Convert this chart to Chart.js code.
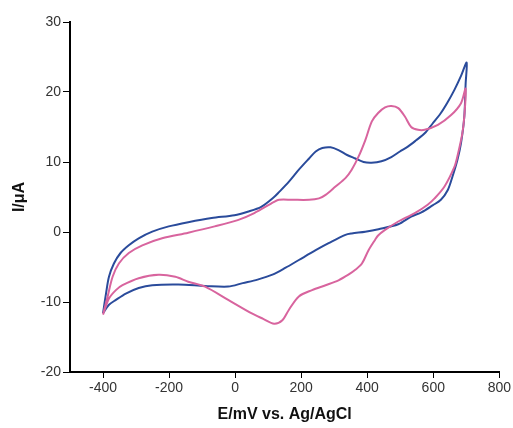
<!DOCTYPE html>
<html>
<head>
<meta charset="utf-8">
<script src="https://cdn.jsdelivr.net/npm/chart.js@4"></script>
<style>
  body { margin: 0; background: #fff; }
  #wrap { width: 513px; height: 428px; }
</style>
</head>
<body>
<div id="wrap"><canvas id="chartCV"></canvas></div>
<script>
// blue scan: potential (mV) and current (uA), loop from -400 up to 700 and back
var blueE = [-400, -391, -382, -367, -347, -322, -292, -251, -201, -142, -71, -2, 38, 79, 118, 133, 163, 193, 224, 244, 264, 289, 313, 339, 364, 389, 413, 443, 473, 499, 523, 548, 574, 598, 623, 643, 664, 684, 701,
             698, 694, 684, 673, 658, 644, 623, 598, 564, 533, 494, 434, 394, 353, 334, 283, 244, 193, 153, 113, 68, 23, -21, -91, -172, -251, -292, -331, -361, -382, -400];
var blueI = [-11.6, -8.8, -6.4, -4.5, -3.0, -1.9, -0.9, 0.05, 0.8, 1.4, 2.0, 2.4, 2.9, 3.6, 5.0, 5.7, 7.2, 8.9, 10.5, 11.5, 12.0, 12.1, 11.7, 11.0, 10.5, 10.0, 9.9, 10.1, 10.7, 11.5, 12.2, 13.1, 14.1, 15.5, 17.0, 18.5, 20.3, 22.3, 24.2,
             21.2, 16.5, 12.7, 10.3, 7.9, 6.0, 4.6, 3.8, 2.8, 2.2, 1.1, 0.4, 0.05, -0.2, -0.4, -1.6, -2.6, -4.0, -5.1, -6.1, -6.8, -7.3, -7.8, -7.7, -7.5, -7.6, -8.0, -8.8, -9.7, -10.4, -11.6];

// pink scan
var pinkE = [-400, -386, -371, -352, -322, -281, -221, -142, -62, 8, 58, 118, 133, 173, 224, 254, 274, 304, 334, 353, 374, 394, 414, 433, 454, 473, 494, 514, 533, 554, 574, 614, 654, 684, 698,
             694, 688, 673, 664, 634, 604, 583, 544, 494, 454, 433, 424, 404, 384, 364, 343, 313, 274, 233, 193, 163, 143, 118, 85, 49, -21, -91, -142, -181, -232, -292, -341, -361, -382, -400];
var pinkI = [-11.8, -9.2, -6.4, -4.5, -3.0, -1.9, -0.9, -0.1, 0.8, 1.7, 2.7, 4.3, 4.6, 4.6, 4.6, 4.8, 5.3, 6.5, 7.7, 8.9, 10.8, 13.1, 15.8, 17.0, 17.8, 18.0, 17.7, 16.5, 15.0, 14.6, 14.6, 15.3, 16.7, 18.4, 20.5,
             16.5, 14.1, 10.8, 9.3, 6.5, 4.8, 3.9, 2.7, 1.5, 0.3, -0.5, -1.1, -2.6, -4.5, -5.4, -6.1, -6.9, -7.6, -8.3, -9.2, -11.1, -12.6, -13.1, -12.4, -11.6, -9.7, -7.8, -7.1, -6.4, -6.1, -6.6, -7.6, -8.3, -9.5, -11.8];

var xTicks = [-400, -200, 0, 200, 400, 600, 800];

function toPoints(xs, ys) {
    var pts = [];
    for (var i = 0; i < xs.length; i++) pts.push({x: xs[i], y: ys[i]});
    return pts;
}

var ctx = document.getElementById('chartCV');
var myChart = new Chart(ctx, {
    type: 'scatter',
    data: {
        datasets: [{
            data: toPoints(pinkE, pinkI),
            showLine: true,
            borderColor: '#d8649e',
            borderWidth: 2,
            pointRadius: 0,
            tension: 0.3
        }, {
            data: toPoints(blueE, blueI),
            showLine: true,
            borderColor: '#2a4b9b',
            borderWidth: 2,
            pointRadius: 0,
            tension: 0.3
        }]
    },
    options: {
        responsive: true,
        maintainAspectRatio: false,
        animation: false,
        layout: { padding: { top: 22, right: 11, left: 6, bottom: 0 } },
        plugins: { legend: { display: false }, tooltip: { enabled: false } },
        scales: {
            x: {
                type: 'linear',
                min: -500,
                max: 800,
                afterBuildTicks: function(scale) {
                    scale.ticks = xTicks.map(function(v) { return {value: v}; });
                },
                afterFit: function(scale) { scale.height = 56; },
                grid: { drawOnChartArea: false, drawTicks: true, tickLength: 6, color: '#000', lineWidth: 1 },
                border: { display: true, color: '#000', width: 2 },
                ticks: { color: '#333', padding: 2, maxRotation: 0, font: { family: 'Liberation Sans', size: 14 } },
                title: { display: true, text: 'E/mV vs. Ag/AgCl', color: '#111', padding: { top: 6 },
                         font: { family: 'Liberation Sans', size: 16, weight: 'bold' } }
            },
            y: {
                min: -20,
                max: 30,
                afterFit: function(scale) { scale.width = 64; },
                grid: { drawOnChartArea: false, drawTicks: true, tickLength: 7, color: '#000', lineWidth: 1 },
                border: { display: true, color: '#000', width: 2 },
                ticks: { stepSize: 10, color: '#333', padding: 2, font: { family: 'Liberation Sans', size: 14 } },
                title: { display: true, text: 'I/\u03bcA', color: '#111', padding: { bottom: 6 },
                         font: { family: 'Liberation Sans', size: 16, weight: 'bold' } }
            }
        }
    }
});
</script>
</body>
</html>
